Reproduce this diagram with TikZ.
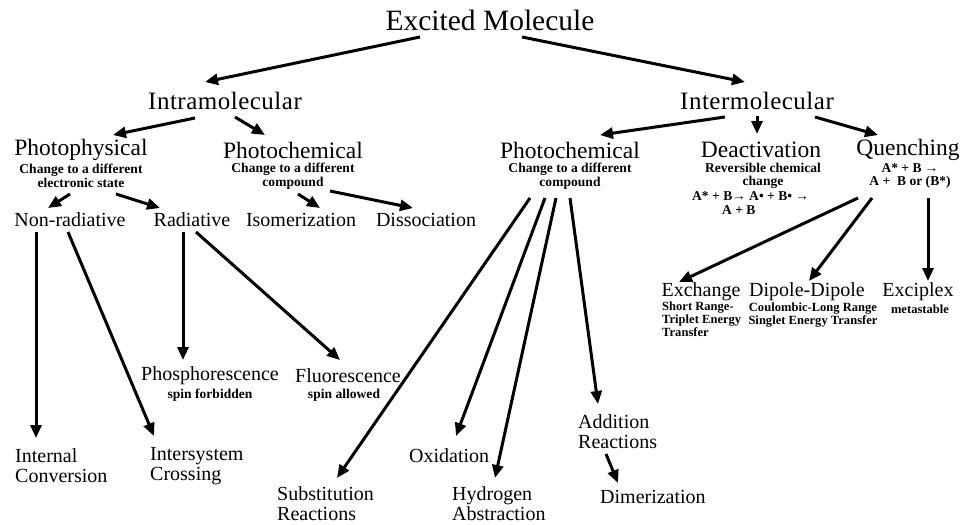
\documentclass[tikz,border=0pt]{standalone}
\usepackage{fontspec}
\setmainfont{Liberation Serif}
\newfontfamily\fS[LetterSpace=0.3]{Liberation Serif}
\newfontfamily\fT[LetterSpace=2]{Liberation Serif}
\usetikzlibrary{calc,arrows.meta}
\tikzset{
  every node/.style={inner sep=0pt},
  t1/.style={font=\fontsize{29.5}{32}\selectfont},
  t2/.style={font=\fT\fontsize{25}{28}\selectfont},
  t3/.style={font=\fontsize{23.5}{25}\selectfont},
  t4/.style={font=\fontsize{20}{20}\selectfont, align=left},
  sub/.style={font=\fS\bfseries\fontsize{13.5}{13.5}\selectfont, align=center},
  subl/.style={font=\fS\bfseries\fontsize{13.5}{13.5}\selectfont, align=left},
  subs/.style={font=\fS\bfseries\fontsize{12.5}{13}\selectfont, align=center},
  subsl/.style={font=\fS\bfseries\fontsize{12.5}{13}\selectfont, align=left},
  arr/.style={line width=3pt, -{Triangle[length=13pt,width=11pt]}}
}
\begin{document}
\begin{tikzpicture}[x=1pt,y=-1pt]
\fill[white] (0,0) rectangle (962,525);
\useasboundingbox (0,0) rectangle (962,525);
% nodes
\node[t1] (em) at (490,20) {Excited Molecule};
\node[t2] (intra) at (225,101) {Intramolecular};
\node[t2] (inter) at (757,101) {Intermolecular};
\node[t3] (pp) at (81,150) {Photophysical};
\node[sub] (ppS) at (81,176) {Change to a different\\electronic state};
\node[t3] (pcl) at (293,150) {Photochemical};
\node[sub] (pclS) at (293,176) {Change to a different\\compound};
\node[t3] (pcr) at (570,150) {Photochemical};
\node[sub] (pcrS) at (570,176) {Change to a different\\compound};
\node[t3] (deact) at (761,150) {Deactivation};
\node[sub] (deactS) at (763,176) {Reversible chemical\\change};
\node[subl, anchor=west] (deactE) at (692,196) {A* + B→ A• + B• →};
\node[subl, anchor=west] (deactF) at (722,210) {A + B};
\node[t3] (quench) at (908,150) {Quenching};
\node[sub] (quenchS) at (910,176) {A* + B →\\A +\ \ B or (B*)};
\node[t4] (nonrad) at (70,220) {Non-radiative};
\node[t4] (rad) at (192,220) {Radiative};
\node[t4] (isom) at (301,220) {Isomerization};
\node[t4] (diss) at (426,220) {Dissociation};
\node[t4] (exch) at (701,292) {Exchange};
\node[subsl, anchor=north west] (exchS) at (662,302) {Short Range-\\Triplet Energy\\Transfer};
\node[t4] (dip) at (807,292) {Dipole-Dipole};
\node[subs] (dipS) at (813,315) {Coulombic-Long Range\\Singlet Energy Transfer};
\node[t4] (excip) at (918,292) {Exciplex};
\node[subs] (excipS) at (920,309) {metastable};
\node[t4] (phos) at (210,376) {Phosphorescence};
\node[sub] (phosS) at (210,395) {spin forbidden};
\node[t4] (fluo) at (348,376) {Fluorescence};
\node[sub] (fluoS) at (344,395) {spin allowed};
\node[t4, anchor=west] (add) at (578,432) {Addition\\Reactions};
\node[t4, anchor=west] (ic) at (15,466) {Internal\\Conversion};
\node[t4, anchor=west] (isc) at (150,466) {Intersystem\\Crossing};
\node[t4, anchor=west] (oxid) at (409,456) {Oxidation};
\node[t4, anchor=west] (subst) at (277,504) {Substitution\\Reactions};
\node[t4, anchor=west] (hydro) at (452,504) {Hydrogen\\Abstraction};
\node[t4, anchor=west] (dimer) at (600,497) {Dimerization};
% arrows
\draw[arr] ($(em)+(-70,17)$) -- ($(intra)+(-20,-19)$);
\draw[arr] ($(em)+(32,17)$) -- ($(inter)+(-12,-19)$);
\draw[arr] ($(intra)+(-30,17)$) -- ($(pp)+(32,-15)$);
\draw[arr] ($(intra)+(10,16)$) -- ($(pcl)+(-28,-15)$);
\draw[arr] ($(inter)+(-32,16)$) -- ($(pcr)+(30,-15)$);
\draw[arr] ($(inter)+(0,15)$) -- ($(deact)+(-4,-16)$);
\draw[arr] ($(inter)+(58,16)$) -- ($(quench)+(-30,-15)$);
\draw[arr] ($(ppS)+(-11,18)$) -- ($(nonrad)+(-22,-12)$);
\draw[arr] ($(ppS)+(35,18)$) -- ($(rad)+(-32,-12)$);
\draw[arr] ($(pclS)+(5,18)$) -- ($(isom)+(19,-12)$);
\draw[arr] ($(pclS)+(37,15)$) -- ($(diss)+(-13,-12)$);
\draw[arr] ($(nonrad)+(-34,12)$) -- ($(ic.west)+(21,-28)$);
\draw[arr] ($(nonrad)+(-2,12)$) -- ($(isc.west)+(4,-30)$);
\draw[arr] ($(rad)+(-9,12)$) -- ($(phos)+(-27,-16)$);
\draw[arr] ($(rad)+(4,12)$) -- ($(fluo)+(-8,-16)$);
\draw[arr] ($(pcrS)+(-40,22)$) -- ($(subst.west)+(60,-26)$);
\draw[arr] ($(pcrS)+(-25,22)$) -- ($(oxid.west)+(47,-20)$);
\draw[arr] ($(pcrS)+(-14,22)$) -- ($(hydro.west)+(43,-26)$);
\draw[arr] ($(pcrS)+(0,22)$) -- ($(add.west)+(20,-28)$);
\draw[arr] ($(add.west)+(28,22)$) -- ($(dimer.west)+(18,-14)$);
\draw[arr] ($(quenchS)+(-52,22)$) -- ($(exch)+(-22,-10)$);
\draw[arr] ($(quenchS)+(-38,22)$) -- ($(dip)+(2,-11)$);
\draw[arr] ($(quenchS)+(18,22)$) -- ($(excip)+(10,-11)$);
\end{tikzpicture}
\end{document}
